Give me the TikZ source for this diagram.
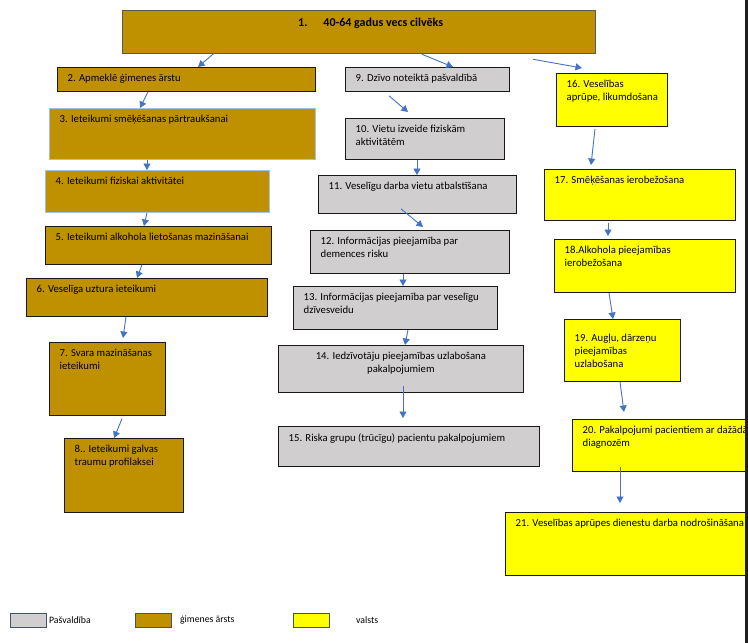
\documentclass[tikz,border=0pt]{standalone}
\usepackage{fontspec}
\setmainfont{Carlito}
\usetikzlibrary{arrows.meta}

\definecolor{gimfill}{HTML}{BF9000}
\definecolor{pasfill}{HTML}{D0CECE}
\definecolor{valfill}{HTML}{FFFF00}
\definecolor{arrblue}{HTML}{4472C4}
\definecolor{lightedge}{HTML}{9DC3E6}
\definecolor{legedge}{HTML}{44546A}

\begin{document}
\begin{tikzpicture}[x=1pt, y=-1pt]
    \tikzstyle{box}  = [shape=rectangle, draw=black!90, line width=0.8pt, anchor=north west, inner sep=0pt]
    \tikzstyle{gim}  = [box, fill=gimfill]
    \tikzstyle{pas}  = [box, fill=pasfill]
    \tikzstyle{val}  = [box, fill=valfill]
    \tikzstyle{txt}  = [anchor=north west, align=left, inner sep=0pt, xshift=10.5pt, yshift=-7pt,
                        font=\fontsize{10.7}{12.7}\selectfont]
    \tikzstyle{arr}  = [draw=arrblue, line width=0.9pt, -{Triangle[width=7pt, length=6.5pt]}]
    \tikzstyle{leg}  = [shape=rectangle, draw=legedge, line width=0.9pt, anchor=north west,
                        minimum width=36pt, minimum height=14pt, inner sep=0pt]
    \tikzstyle{legtxt} = [anchor=west, inner sep=0pt, font=\fontsize{9.8}{11}\selectfont]

    \useasboundingbox (0,0) rectangle (748,643);

    % top box
    \node[gim, draw=black!65, line width=1.3pt, minimum width=473pt, minimum height=43pt,
          label={[txt, xshift=165.5pt, yshift=-1pt, font=\fontsize{12}{13}\selectfont\bfseries]north west:{1.\hspace{16pt}40-64 gadus vecs cilvēks}}]
        (n1) at (122,10) {};

    % left column
    \node[gim, minimum width=258pt, minimum height=24pt,
          label={[txt]north west:{2. Apmeklē ģimenes ārstu}}] (n2) at (57,67) {};
    \node[gim, draw=lightedge, minimum width=266pt, minimum height=51pt,
          label={[txt]north west:{3. Ieteikumi smēķēšanas pārtraukšanai}}] (n3) at (49,108) {};
    \node[gim, draw=lightedge, minimum width=224pt, minimum height=42pt,
          label={[txt]north west:{4. Ieteikumi fiziskai aktivitātei}}] (n4) at (45,170) {};
    \node[gim, minimum width=226pt, minimum height=38pt,
          label={[txt]north west:{5. Ieteikumi alkohola lietošanas mazināšanai}}] (n5) at (45,226) {};
    \node[gim, minimum width=241pt, minimum height=38pt,
          label={[txt]north west:{6. Veselīga uztura ieteikumi}}] (n6) at (26,278) {};
    \node[gim, minimum width=116pt, minimum height=73pt,
          label={[txt]north west:{7. Svara mazināšanas\\ieteikumi}}] (n7) at (49,342) {};
    \node[gim, minimum width=119pt, minimum height=74pt,
          label={[txt]north west:{8.. Ieteikumi galvas\\traumu profilaksei}}] (n8) at (64,438) {};

    % middle column
    \node[pas, minimum width=164pt, minimum height=24pt,
          label={[txt]north west:{9. Dzīvo noteiktā pašvaldībā}}] (n9) at (345,67) {};
    \node[pas, minimum width=159pt, minimum height=41pt,
          label={[txt]north west:{10. Vietu izveide fiziskām\\aktivitātēm}}] (n10) at (345,118) {};
    \node[pas, minimum width=198pt, minimum height=38pt,
          label={[txt]north west:{11. Veselīgu darba vietu atbalstīšana}}] (n11) at (318,175) {};
    \node[pas, minimum width=199pt, minimum height=43pt,
          label={[txt]north west:{12. Informācijas pieejamība par\\demences risku}}] (n12) at (310,230) {};
    \node[pas, minimum width=204pt, minimum height=43pt,
          label={[txt]north west:{13. Informācijas pieejamība par veselīgu\\dzīvesveidu}}] (n13) at (293,286) {};
    \node[pas, minimum width=245pt, minimum height=47pt,
          label={[txt, anchor=north, align=center, xshift=-10.5pt]north:{14. Iedzīvotāju pieejamības uzlabošana\\pakalpojumiem}}] (n14) at (278,345) {};
    \node[pas, minimum width=261pt, minimum height=40pt,
          label={[txt]north west:{15. Riska grupu (trūcīgu) pacientu pakalpojumiem}}] (n15) at (278,426) {};

    % right column
    \node[val, minimum width=111pt, minimum height=53pt,
          label={[txt]north west:{16. Veselības\\aprūpe, likumdošana}}] (n16) at (556,73) {};
    \node[val, minimum width=191pt, minimum height=51pt,
          label={[txt]north west:{17. Smēķēšanas ierobežošana}}] (n17) at (544,169) {};
    \node[val, minimum width=181pt, minimum height=53pt,
          label={[txt]north west:{18.Alkohola pieejamības\\ierobežošana}}] (n18) at (554,239) {};
    \node[val, minimum width=116pt, minimum height=62pt,
          label={[txt, yshift=-8pt]north west:{19. Augļu, dārzeņu\\pieejamības\\uzlabošana}}] (n19) at (564,319) {};
    \node[val, minimum width=190pt, minimum height=52pt,
          label={[txt]north west:{20. Pakalpojumi pacientiem ar dažādā\\diagnozēm}}] (n20) at (572,419) {};
    \node[val, minimum width=250pt, minimum height=63pt,
          label={[txt]north west:{21. Veselības aprūpes dienestu darba nodrošināšana}}] (n21) at (505,512) {};

    % arrows
    \draw[arr] ([shift={(92,-1)}]n1.south west)   -- ([shift={(141,0)}]n2.north west);
    \draw[arr] ([shift={(300,0)}]n1.south west)   -- ([shift={(108,0)}]n9.north west);
    \draw[arr] ([shift={(411,5)}]n1.south west)   -- ([shift={(26,-5)}]n16.north west);

    \draw[arr] ([shift={(91,0)}]n2.south west)    -- ([shift={(91,0)}]n3.north west);
    \draw[arr] ([shift={(98,0)}]n3.south west)    -- ([shift={(102,0)}]n4.north west);
    \draw[arr] ([shift={(102,0)}]n4.south west)   -- ([shift={(99,0)}]n5.north west);
    \draw[arr] ([shift={(97,0)}]n5.south west)    -- ([shift={(111,0)}]n6.north west);
    \draw[arr] ([shift={(100,0)}]n6.south west)   -- ([shift={(74,-4)}]n7.north west);
    \draw[arr] ([shift={(73,3)}]n7.south west)    -- ([shift={(50,0)}]n8.north west);

    \draw[arr] ([shift={(44,4)}]n9.south west)    -- ([shift={(63,-6)}]n10.north west);
    \draw[arr] ([shift={(72,0)}]n10.south west)   -- ([shift={(99,0)}]n11.north west);
    \draw[arr] ([shift={(83,-5)}]n11.south west)  -- ([shift={(113,-3)}]n12.north west);
    \draw[arr] ([shift={(93,0)}]n12.south west)   -- ([shift={(110,0)}]n13.north west);
    \draw[arr] ([shift={(115,0)}]n13.south west)  -- ([shift={(127,0)}]n14.north west);
    \draw[arr] ([shift={(125,-7)}]n14.south west) -- ([shift={(125,-8)}]n15.north west);

    \draw[arr] ([shift={(39,2)}]n16.south west)   -- ([shift={(47,-4)}]n17.north west);
    \draw[arr] ([shift={(64,2)}]n17.south west)   -- ([shift={(54,-3)}]n18.north west);
    \draw[arr] ([shift={(55,0)}]n18.south west)   -- ([shift={(49,0)}]n19.north west);
    \draw[arr] ([shift={(56,0)}]n19.south west)   -- ([shift={(52,-7)}]n20.north west);
    \draw[arr] ([shift={(48,-5)}]n20.south west)  -- ([shift={(115,-9)}]n21.north west);

    % legend
    \node[leg, fill=pasfill] (lpas) at (10,613) {};
    \node[legtxt] (lpastxt) at ([xshift=2pt]lpas.east) {Pašvaldība};
    \node[leg, fill=gimfill] (lgim) at (135,613) {};
    \node[legtxt] (lgimtxt) at ([xshift=8pt]lgim.east) {ģimenes ārsts};
    \node[leg, fill=valfill] (lval) at (293,613) {};
    \node[legtxt] (lvaltxt) at ([xshift=26pt]lval.east) {valsts};

    % right edge bar
    \fill[black!88] (745,0) rectangle (748,643);
\end{tikzpicture}
\end{document}
